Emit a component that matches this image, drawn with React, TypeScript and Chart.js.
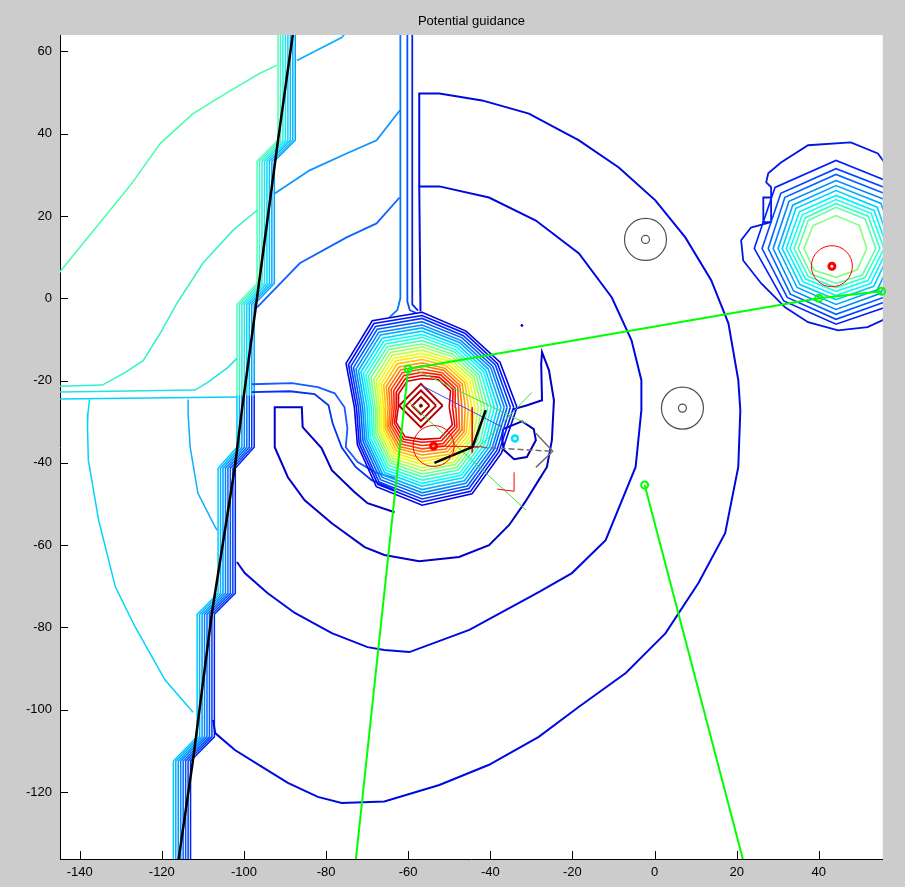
import { useEffect, useRef } from "react";
import { Chart, registerables } from "chart.js";

Chart.register(...registerables);

type P = [number, number];

// ---------- axes ----------
const titleText = "Potential guidance";
const xTicks = [-140, -120, -100, -80, -60, -40, -20, 0, 20, 40];
const yTicks = [-120, -100, -80, -60, -40, -20, 0, 20, 40, 60];
const xLimits = [-144.8, 55.6];
const yLimits = [-136.3, 64.0];

// ---------- planned path ----------
const pathLine: P[] = [
  [-88.1, 64.1], [-91.7, 38.4], [-96.8, 0.2], [-100.5, -27.2],
  [-102.2, -41.0], [-107.8, -76.5], [-112.4, -112.2], [-116.0, -137.0],
];

// ---------- stair-stepped contour bundle along the path ----------
const bandUpperBase: P[] = [
  [-91.7, 64.1], [-91.7, 38.4], [-96.8, 33.3], [-96.8, 3.6], [-101.7, -1.5], [-101.7, -23.6],
];
const bandLowerBase: P[] = [
  [-101.7, -23.6], [-101.7, -36.2], [-106.3, -41.3], [-106.3, -71.7],
  [-111.4, -76.8], [-111.4, -106.6], [-117.2, -112.5], [-117.2, -137.0],
];
const bandOffsets = [0, 0.6, 1.2, 1.8, 2.4, 3.0, 3.6, 4.2];
const bandUpperColors = ["#50ffb0", "#40f8c8", "#30f0dc", "#20e4ee", "#10d4fa", "#00c4ff", "#00b4ff", "#00a4ff"];
const bandLowerColors = ["#00ccff", "#00b4ff", "#009cff", "#0084ff", "#006cff", "#0054ff", "#003cff", "#0024f0"];

// ---------- contours left of the path ----------
const topGreenCurve: P[] = [
  [-145.5, 5.6], [-135.0, 18.5], [-127.7, 27.4], [-120.4, 37.6], [-112.4, 44.9],
  [-104.1, 50.0], [-96.1, 54.7], [-92.0, 56.6],
];
const sideCurve: P[] = [
  [-96.8, 21.4], [-102.7, 16.5], [-110.0, 8.5], [-116.3, -1.2], [-120.4, -8.5],
  [-124.5, -15.1], [-128.9, -18.0], [-134.5, -21.1], [-145.5, -21.4],
];
const leftLevelA: P[] = [[-145.5, -22.8], [-111.9, -22.3], [-108.7, -20.4], [-103.9, -16.8], [-101.7, -14.6]];
const leftLevelB: P[] = [[-145.5, -24.5], [-101.7, -24.0]];
const leftArcOuter: P[] = [
  [-137.6, -24.6], [-138.0, -28.0], [-138.1, -31.3], [-137.9, -39.3], [-135.4, -53.9],
  [-131.3, -70.2], [-126.5, -79.9], [-119.2, -92.8], [-112.4, -100.6],
];
const leftArcInner: P[] = [
  [-113.6, -24.6], [-113.6, -28.0], [-113.1, -36.2], [-111.2, -47.4], [-107.0, -55.6], [-106.5, -56.4],
];

// ---------- contours between the path and the obstacle ----------
const upperBranch: P[] = [[-92.5, 25.5], [-84.0, 31.1], [-75.0, 35.2], [-67.7, 38.4], [-62.0, 45.7]];
const lowerBranch: P[] = [[-96.8, -2.2], [-86.4, 8.5], [-75.0, 14.8], [-67.7, 18.2], [-62.1, 24.5]];
const topRightBranch: P[] = [[-87.1, 57.8], [-76.2, 63.4], [-74.8, 65.0]];
const tailA: P[] = [[-61.9, 65.0], [-61.9, 0.0], [-62.6, -2.8], [-64.5, -4.6]];
const tailB: P[] = [[-60.2, 65.0], [-60.2, -0.8], [-59.6, -2.9], [-58.0, -3.6]];
const tailC: P[] = [[-59.0, 65.0], [-59.0, -1.5], [-57.6, -3.0]];

const innerArc: P[] = [
  [-57.0, -3.2], [-57.3, 27.2], [-52.4, 27.2], [-40.3, 24.5], [-28.9, 18.9], [-18.4, 10.9],
  [-10.4, 0.2], [-5.6, -10.2], [-3.2, -19.9], [-3.2, -27.2], [-4.6, -41.0], [-11.9, -58.8],
  [-20.1, -66.8], [-28.2, -71.4], [-45.1, -80.6], [-59.7, -86.0], [-65.8, -85.5], [-69.9, -84.8],
  [-78.6, -81.4], [-87.6, -76.5], [-94.2, -71.7], [-99.8, -66.8], [-101.7, -64.1],
];
const outerArc: P[] = [
  [-57.3, 27.2], [-57.3, 49.8], [-52.4, 49.8], [-42.0, 48.1], [-30.6, 44.9], [-18.4, 38.4],
  [-8.7, 31.8], [0.2, 23.8], [7.5, 14.8], [13.8, 4.4], [18.0, -6.1], [20.4, -19.9], [20.9, -27.2],
  [20.4, -41.0], [17.2, -57.1], [10.7, -69.2], [2.7, -81.4], [-7.0, -91.1], [-18.4, -99.3],
  [-28.2, -106.6], [-40.3, -113.4], [-52.4, -118.3], [-65.8, -122.3], [-76.2, -122.7],
  [-82.0, -121.2], [-89.3, -117.8], [-95.6, -113.9], [-102.2, -109.8], [-107.0, -105.7], [-107.5, -102.5],
];
const channelA: P[] = [
  [-98.1, -20.9], [-88.3, -20.6], [-82.0, -21.6], [-77.9, -23.1], [-75.5, -26.5],
  [-74.8, -31.6], [-75.2, -36.2], [-72.3, -39.8], [-68.0, -42.3], [-63.3, -43.7],
];
const channelB: P[] = [
  [-98.1, -22.8], [-88.8, -22.6], [-82.8, -23.3], [-79.4, -26.0], [-78.4, -30.4],
  [-76.2, -36.2], [-72.8, -41.0], [-68.9, -44.2], [-63.3, -46.6],
];
const hookContour: P[] = [
  [-63.3, -52.0], [-69.9, -49.8], [-73.1, -47.1], [-78.6, -41.8], [-81.1, -36.4], [-85.7, -31.3],
  [-85.9, -26.5], [-92.5, -26.5], [-92.5, -36.2], [-89.3, -43.5], [-85.2, -49.1], [-78.6, -54.7],
  [-70.6, -60.5], [-65.8, -62.4], [-57.3, -63.9], [-47.6, -62.9], [-40.3, -60.0], [-35.4, -55.1],
  [-31.5, -49.5], [-28.2, -44.2], [-26.2, -41.0], [-25.0, -34.5], [-24.5, -24.8], [-25.7, -17.5],
  [-27.4, -13.1], [-27.6, -16.0], [-27.4, -24.8], [-31.0, -26.0], [-34.5, -27.0],
];
const targetContour: P[] = [
  [-36.9, -31.8], [-32.3, -29.9], [-29.4, -31.8], [-28.9, -34.5], [-31.1, -38.6],
  [-34.2, -39.1], [-36.7, -36.9], [-37.1, -34.2], [-36.9, -31.8],
];

// ---------- central potential peak: ring radii every 30° (from east, counter-clockwise), outer to inner ----------
const peakCenter: P = [-56.6, -26.5];
const peakRadii: number[][] = [
  [23.1, 21.9, 21.4, 23.1, 24.3, 21.4, 16.5, 18.2, 22.3, 23.8, 24.3, 22.3],
  [22.3, 21.2, 20.8, 22.3, 23.5, 20.7, 16.0, 17.7, 21.6, 23.0, 23.6, 21.6],
  [21.5, 20.6, 20.1, 21.6, 22.7, 20.0, 15.5, 17.2, 21.0, 22.3, 22.8, 21.0],
  [20.7, 19.9, 19.5, 20.8, 21.9, 19.3, 15.0, 16.6, 20.3, 21.5, 22.1, 20.3],
  [20.0, 19.3, 18.8, 20.0, 21.1, 18.6, 14.5, 16.1, 19.6, 20.8, 21.3, 19.7],
  [19.2, 18.6, 18.2, 19.3, 20.3, 17.9, 14.0, 15.6, 19.0, 20.0, 20.6, 19.0],
  [18.4, 17.9, 17.5, 18.5, 19.4, 17.2, 13.4, 15.1, 18.3, 19.2, 19.8, 18.4],
  [17.6, 17.3, 16.9, 17.7, 18.6, 16.5, 12.9, 14.6, 17.6, 18.5, 19.1, 17.7],
  [16.8, 16.6, 16.2, 17.0, 17.8, 15.8, 12.4, 14.0, 17.0, 17.7, 18.4, 17.0],
  [16.0, 15.9, 15.6, 16.2, 17.0, 15.1, 11.9, 13.5, 16.3, 16.9, 17.6, 16.4],
  [15.2, 15.3, 14.9, 15.4, 16.2, 14.4, 11.4, 13.0, 15.6, 16.2, 16.9, 15.7],
  [14.5, 14.6, 14.3, 14.7, 15.4, 13.6, 10.9, 12.5, 15.0, 15.4, 16.1, 15.1],
  [13.7, 14.0, 13.6, 13.9, 14.6, 12.9, 10.4, 12.0, 14.3, 14.7, 15.4, 14.4],
  [12.9, 13.3, 13.0, 13.1, 13.8, 12.2, 9.9, 11.5, 13.6, 13.9, 14.6, 13.8],
  [12.1, 12.6, 12.3, 12.4, 13.0, 11.5, 9.4, 10.9, 13.0, 13.1, 13.9, 13.1],
  [11.3, 12.0, 11.7, 11.6, 12.2, 10.8, 8.9, 10.4, 12.3, 12.4, 13.2, 12.4],
  [10.5, 11.3, 11.0, 10.8, 11.3, 10.1, 8.3, 9.9, 11.6, 11.6, 12.4, 11.8],
  [9.7, 10.6, 10.4, 10.1, 10.5, 9.4, 7.8, 9.4, 11.0, 10.8, 11.7, 11.1],
  [8.9, 10.0, 9.7, 9.3, 9.7, 8.7, 7.3, 8.9, 10.3, 10.1, 10.9, 10.5],
  [8.2, 9.3, 9.1, 8.5, 8.9, 8.0, 6.8, 8.4, 9.6, 9.3, 10.2, 9.8],
  [7.4, 8.7, 8.4, 7.8, 8.1, 7.3, 6.3, 7.8, 9.0, 8.5, 9.4, 9.2],
  [6.6, 8.0, 7.8, 7.0, 7.3, 6.6, 5.8, 7.3, 8.3, 7.8, 8.7, 8.5],
];
const diamondCenter: P = [-56.9, -26.1];
const diamondSizes = [5.3, 3.7, 2.1];

// ---------- right-hand peak ----------
const rightOuter: P[] = [
  [59.2, 28.7], [54.4, 35.2], [47.8, 37.9], [37.4, 37.2], [30.8, 33.0], [27.7, 30.4], [27.2, 28.2],
  [28.4, 27.0], [28.4, 18.5], [23.5, 17.2], [21.1, 14.1], [21.6, 9.2], [26.0, 3.6], [31.8, -2.2],
  [37.4, -5.8], [44.7, -7.8], [51.9, -7.0], [55.6, -5.3], [59.2, -0.5],
];
const rightNotch: P[] = [[28.4, 24.5], [26.5, 24.5], [26.5, 18.5], [28.4, 18.5]];
const rightCenter: P = [44.2, 12.1];
// ring radii every 45° (from east, counter-clockwise), outer to inner
const rightRadii: number[][] = [
  [20.6, 21.6, 21.4, 21.0, 19.9, 18.0, 18.4, 19.4],
  [18.9, 19.8, 19.4, 19.0, 18.0, 16.8, 17.2, 18.0],
  [17.5, 18.3, 18.0, 17.6, 16.5, 15.7, 16.0, 16.7],
  [16.0, 16.8, 16.5, 16.2, 15.3, 14.6, 14.8, 15.4],
  [14.8, 15.5, 15.3, 14.9, 14.1, 13.4, 13.6, 14.2],
  [13.6, 14.2, 14.1, 13.8, 13.1, 12.4, 12.4, 13.0],
  [12.6, 13.1, 12.9, 12.6, 12.1, 11.4, 11.4, 12.0],
  [11.7, 12.1, 11.9, 11.6, 11.2, 10.5, 10.4, 11.0],
  [10.7, 11.1, 10.9, 10.6, 10.2, 9.6, 9.5, 10.0],
  [9.7, 10.1, 10.0, 9.6, 9.2, 8.7, 8.5, 9.1],
  [7.5, 8.0, 8.0, 7.9, 7.8, 7.5, 7.0, 7.3],
];

// ---------- route legs and vehicle ----------
const routeA: P[] = [[-60.0, -17.2], [40.0, 0.0], [55.3, 1.7]];
const routeB: P[] = [[-60.0, -17.2], [-72.8, -137.0]];
const routeC: P[] = [[-2.4, -45.4], [21.7, -137.0]];
const waypoints: P[] = [[-60.0, -17.2], [40.0, 0.0], [55.3, 1.7], [-2.4, -45.4]];
const rayA: P[] = [[-59.5, -25.5], [-31.3, -51.5]];
const rayB: P[] = [[-58.0, -17.5], [-31.3, -30.4]];
const rayC: P[] = [[-42.7, -36.2], [-29.9, -22.9]];
const sightLine: P[] = [[-56.9, -21.1], [-37.1, -31.3]];
const vehicleBody: P[] = [[-41.1, -27.2], [-44.3, -36.1], [-53.6, -40.0]];
const headingDashed: P[] = [[-44.3, -36.1], [-24.8, -37.2]];
const headingTip: P[] = [[-28.9, -32.8], [-24.8, -37.2], [-28.9, -41.1]];
const frameVertical: P[] = [[-44.4, -26.5], [-44.4, -37.5]];
const frameHorizontal: P[] = [[-53.8, -35.9], [-42.0, -36.1]];
const frameCorner: P[] = [[-38.3, -46.4], [-34.2, -46.9], [-34.2, -42.3]];

const obstacleCircles: P[] = [[-2.2, 14.3], [6.8, -26.7]];
const threatCircles: P[] = [[-53.8, -35.9], [43.2, 7.8]];
const goalPoint: P[] = [[-34.0, -34.1]];
const strayPoint: P[] = [[-32.3, -6.6]];

// ---------- helpers ----------
function jet(t: number): string {
  const c = (v: number) => Math.round(255 * Math.max(0, Math.min(1, v)));
  return `rgb(${c(1.5 - Math.abs(4 * t - 3))},${c(1.5 - Math.abs(4 * t - 2))},${c(1.5 - Math.abs(4 * t - 1))})`;
}

function ring(c: P, radii: number[]): P[] {
  const n = radii.length;
  const pts: P[] = radii.map((r, k) => {
    const a = (k * 2 * Math.PI) / n;
    return [c[0] + r * Math.cos(a), c[1] + r * Math.sin(a)] as P;
  });
  pts.push(pts[0]);
  return pts;
}

function diamond(c: P, s: number): P[] {
  return [[c[0] + s, c[1]], [c[0], c[1] + s], [c[0] - s, c[1]], [c[0], c[1] - s], [c[0] + s, c[1]]];
}

function buildDatasets() {
  const list: any[] = [];
  const line = (pts: P[], color: string, width: number, dash: number[] = []) =>
    list.push({
      type: "scatter",
      data: pts.map(([x, y]) => ({ x, y })),
      showLine: true,
      borderColor: color,
      borderWidth: width,
      borderDash: dash,
      pointRadius: 0,
      pointHoverRadius: 0,
      fill: false,
      tension: 0,
      clip: 0,
    });
  const marks = (pts: P[], color: string, radius: number, width: number, fillColor = "rgba(0,0,0,0)") =>
    list.push({
      type: "scatter",
      data: pts.map(([x, y]) => ({ x, y })),
      showLine: false,
      pointStyle: "circle",
      pointRadius: radius,
      pointHoverRadius: radius,
      pointBorderWidth: width,
      pointBorderColor: color,
      pointBackgroundColor: fillColor,
      clip: false,
    });

  bandOffsets.forEach((off, i) => {
    line(bandUpperBase.map(([x, y]) => [x + off, y] as P), bandUpperColors[i], 1.5);
    line(bandLowerBase.map(([x, y]) => [x + off, y] as P), bandLowerColors[i], 1.5);
  });
  line(topGreenCurve, "#48ffa8", 1.5);
  line(sideCurve, "#30f4c8", 1.5);
  line(leftLevelA, "#20e4e4", 1.5);
  line(leftLevelB, "#00d0ff", 1.5);
  line(leftArcOuter, "#00d4ff", 1.5);
  line(leftArcInner, "#10acff", 1.5);

  line(upperBranch, "#1094ff", 1.8);
  line(lowerBranch, "#1064ff", 1.8);
  line(topRightBranch, "#10b0ff", 1.8);
  line(tailA, "#0078ff", 1.8);
  line(tailB, "#0050ff", 1.8);
  line(tailC, "#0028e8", 1.8);
  line(innerArc, "#0008e0", 2);
  line(outerArc, "#0008e0", 2);
  line(channelA, "#1858ff", 1.8);
  line(channelB, "#0030f0", 1.8);
  line(hookContour, "#0000c8", 2);
  line(targetContour, "#0000b0", 2);

  const last = peakRadii.length - 1;
  peakRadii.forEach((radii, i) => line(ring(peakCenter, radii), jet(0.1 + (i * 0.82) / last), 1.6));
  diamondSizes.forEach((s) => line(diamond(diamondCenter, s), "#b00000", 2));

  line(rightOuter, "#0018e0", 1.8);
  line(rightNotch, "#0018e0", 1.8);
  rightRadii.forEach((radii, i) => line(ring(rightCenter, radii), jet(0.155 + i * 0.0345), 1.6));

  line(rayA, "#40e040", 1);
  line(rayB, "#40e040", 1);
  line(rayC, "#40e040", 1);
  line(sightLine, "#4848ff", 1);
  line(headingDashed, "#707070", 1.5, [6, 3]);
  line(headingTip, "#707070", 1.5);
  line(frameVertical, "#ff0000", 1);
  line(frameHorizontal, "#ff0000", 1);
  line(frameCorner, "#ff0000", 1);
  line(vehicleBody, "#000000", 2.5);

  line(pathLine, "#000000", 2.5);
  line(routeA, "#00ff00", 2);
  line(routeB, "#00ff00", 2);
  line(routeC, "#00ff00", 2);

  marks(obstacleCircles, "#505050", 21, 1.2);
  marks(obstacleCircles, "#505050", 4, 1.2);
  marks(threatCircles, "#ff0000", 20.5, 1);
  marks(threatCircles, "#ff0000", 3, 3);
  marks(goalPoint, "#00e0ff", 3, 2.5);
  marks(waypoints, "#00ff00", 3.5, 2);
  marks(strayPoint, "#0000ff", 1, 1, "#0000ff");
  marks([diamondCenter], "#800000", 1.5, 1, "#800000");

  return list.reverse();
}

const FONT = '"Liberation Sans", Arial, Helvetica, sans-serif';

const tickMarks = {
  id: "tickMarks",
  beforeDraw(chart: any) {
    const { ctx, chartArea: a, width, height } = chart;
    ctx.save();
    ctx.fillStyle = "#cccccc";
    ctx.fillRect(0, 0, width, height);
    ctx.fillStyle = "#ffffff";
    ctx.fillRect(a.left, a.top, a.right - a.left, a.bottom - a.top);
    ctx.restore();
  },
  afterDraw(chart: any) {
    const { ctx, chartArea: a, scales } = chart;
    ctx.save();
    ctx.strokeStyle = "#000000";
    ctx.lineWidth = 1;
    ctx.beginPath();
    for (const v of xTicks) {
      const px = Math.round(scales.x.getPixelForValue(v)) + 0.5;
      ctx.moveTo(px, a.bottom);
      ctx.lineTo(px, a.bottom - 8);
    }
    for (const v of yTicks) {
      const py = Math.round(scales.y.getPixelForValue(v)) + 0.5;
      ctx.moveTo(a.left, py);
      ctx.lineTo(a.left + 8, py);
    }
    ctx.stroke();
    ctx.restore();
  },
};

export default function App() {
  const ref = useRef<HTMLCanvasElement>(null);

  useEffect(() => {
    const canvas = ref.current;
    if (!canvas) return;
    const chart = new Chart(canvas, {
      type: "scatter",
      data: { datasets: buildDatasets() },
      options: {
        responsive: false,
        maintainAspectRatio: false,
        devicePixelRatio: 1,
        animation: false,
        events: [],
        layout: { padding: { top: 0, left: 0, right: 20, bottom: 0 } },
        plugins: {
          legend: { display: false },
          tooltip: { enabled: false },
          title: {
            display: true,
            text: titleText,
            fullSize: false,
            color: "#000000",
            font: { family: FONT, size: 13, weight: "normal", lineHeight: 1.2 },
            padding: { top: 14, bottom: 5.4 },
          },
        },
        scales: {
          x: {
            type: "linear",
            position: "bottom",
            min: xLimits[0],
            max: xLimits[1],
            bounds: "data",
            grid: { display: true, drawOnChartArea: false, drawTicks: false },
            border: { display: true, color: "#000000", width: 1 },
            ticks: {
              autoSkip: false,
              maxRotation: 0,
              padding: 6,
              color: "#000000",
              font: { family: FONT, size: 13 },
              callback: (v: any) => String(v),
            },
            afterBuildTicks: (axis: any) => {
              axis.ticks = xTicks.map((value) => ({ value }));
            },
            afterFit: (axis: any) => {
              axis.height = 28;
            },
          },
          y: {
            type: "linear",
            position: "left",
            min: yLimits[0],
            max: yLimits[1],
            bounds: "data",
            grid: { display: true, drawOnChartArea: false, drawTicks: false },
            border: { display: true, color: "#000000", width: 1 },
            ticks: {
              autoSkip: false,
              padding: 8,
              color: "#000000",
              font: { family: FONT, size: 13 },
              callback: (v: any) => String(v),
            },
            afterBuildTicks: (axis: any) => {
              axis.ticks = yTicks.map((value) => ({ value }));
            },
            afterFit: (axis: any) => {
              axis.width = 60;
            },
          },
        },
      },
      plugins: [tickMarks],
    } as any);
    return () => chart.destroy();
  }, []);

  return (
    <div style={{ position: "fixed", left: 0, top: 0, width: 905, height: 887, background: "#cccccc" }}>
      <canvas ref={ref} width={905} height={887} style={{ display: "block", width: 905, height: 887 }} />
    </div>
  );
}
